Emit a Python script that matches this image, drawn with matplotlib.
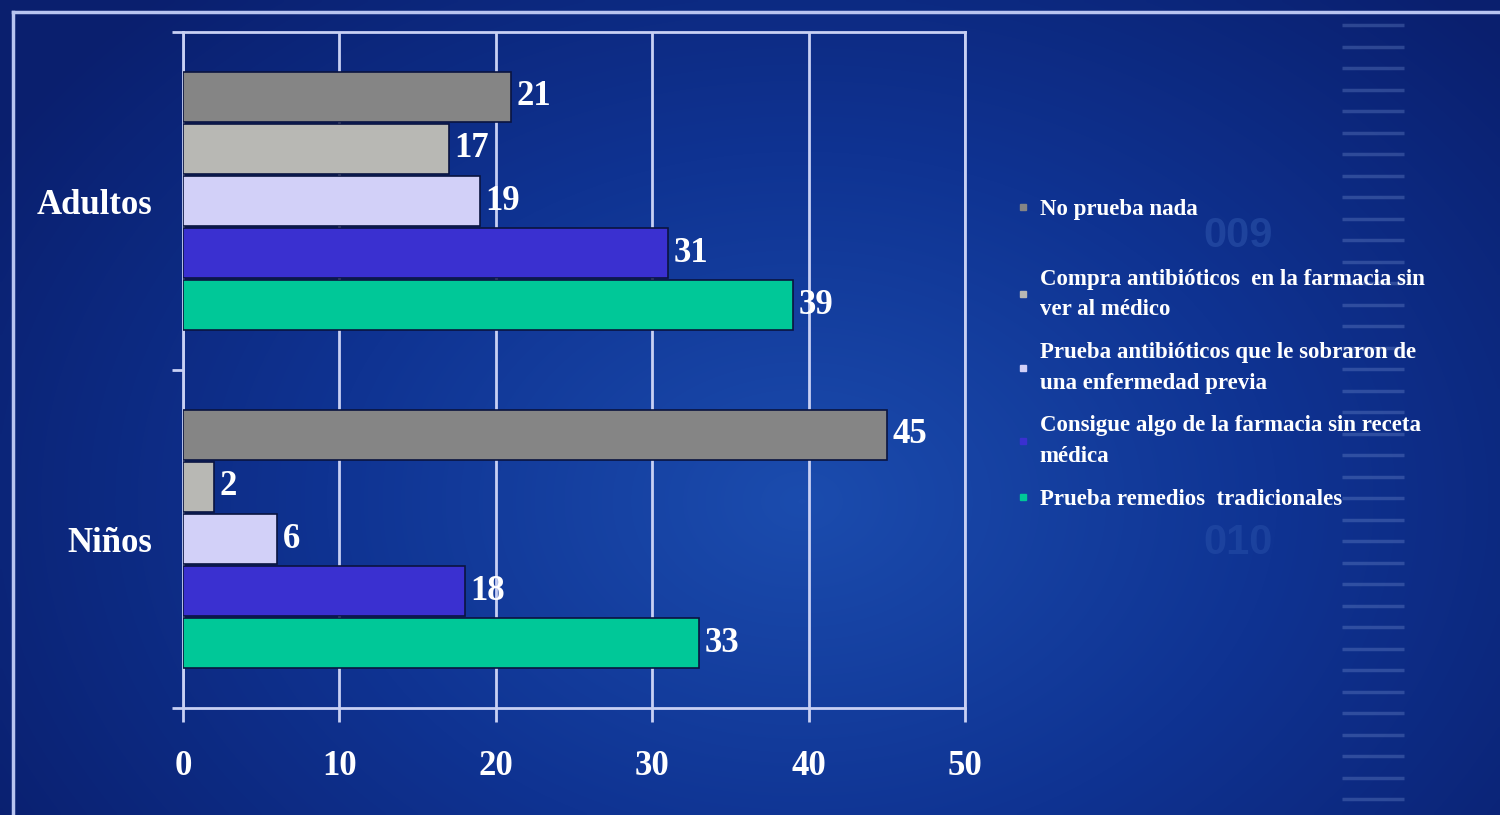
import numpy as np
import matplotlib
matplotlib.use("Agg")
import matplotlib.pyplot as plt
from matplotlib.lines import Line2D
from matplotlib.colors import LinearSegmentedColormap

categories = ["Adultos", "Niños"]
series_names = [
    "No prueba nada",
    "Compra antibióticos  en la farmacia sin\nver al médico",
    "Prueba antibióticos que le sobraron de\nuna enfermedad previa",
    "Consigue algo de la farmacia sin receta\nmédica",
    "Prueba remedios  tradicionales",
]
values_adultos = [21, 17, 19, 31, 39]
values_ninos = [45, 2, 6, 18, 33]
colors = ["#858585", "#b8b8b4", "#d2d0f8", "#3a30d0", "#00c898"]
xticks = [0, 10, 20, 30, 40, 50]

W, H = 1500, 815
fig = plt.figure(figsize=(15, 8.15), dpi=100)
fig.patch.set_facecolor("#0d2a88")

# background gradient
bg = fig.add_axes([0, 0, 1, 1], zorder=-10)
yy, xx = np.mgrid[0:H:4, 0:W:4]
d = np.sqrt(((xx - 800) / 950.0) ** 2 + ((yy - 500) / 700.0) ** 2)
grad = np.clip(1.0 - d, 0, 1)
cmap = LinearSegmentedColormap.from_list("bgc", ["#0a1f6e", "#0f3392", "#1b4cae"])
bg.imshow(grad, cmap=cmap, aspect="auto", extent=[0, W, H, 0], interpolation="bilinear")
bg.set_xlim(0, W)
bg.set_ylim(H, 0)
bg.axis("off")
# decorative ruler dashes on the right
for yv in np.arange(25, 815, 21.5):
    bg.plot([1342, 1404], [yv, yv], color="#7e9ad8", alpha=0.3, lw=2.5, solid_capstyle="butt")
bg.text(1238, 236, "009", color="#3a63b8", alpha=0.4, fontsize=30, ha="center", va="center",
        family="Liberation Sans", fontweight="bold")
bg.text(1238, 543, "010", color="#3a63b8", alpha=0.3, fontsize=30, ha="center", va="center",
        family="Liberation Sans", fontweight="bold")
# slide frame lines
bg.plot([13, 13], [12, H], color="#b8c4f0", lw=2.5)
bg.plot([13, W], [12, 12], color="#b8c4f0", lw=2.5)

ax = fig.add_axes([183 / W, 1 - 708 / H, (965 - 183) / W, (708 - 32) / H])
ax.set_facecolor("none")

frame = "#c8d0f4"
n = len(series_names)
pitch = 0.154
bh = 0.148
y = np.arange(len(categories))
for i in range(n):
    vals = [values_adultos[i], values_ninos[i]]
    bars = ax.barh(y + (i - (n - 1) / 2) * pitch, vals, height=bh, color=colors[i],
                   edgecolor="#0a1440", linewidth=1.2, zorder=3, label=series_names[i])
    ax.bar_label(bars, labels=[str(v) for v in vals], padding=4, color="white",
                 fontsize=25, fontweight="bold", family="Liberation Serif", zorder=5)

ax.set_xlim(0, 50)
ax.set_ylim(1.5, -0.5)
ax.set_xticks(xticks)
ax.set_xticklabels([str(t) for t in xticks])
ax.grid(axis="x", color=frame, lw=2, zorder=1)
ax.set_axisbelow(True)

ax.set_yticks([-0.5, 0.5, 1.5])
ax.set_yticklabels([])
ax.set_yticks(y, minor=True)
ax.set_yticklabels(categories, minor=True)
ax.tick_params(axis="y", which="major", length=8, width=2, color=frame, direction="out")
ax.tick_params(axis="y", which="minor", length=0, pad=22, labelsize=25, labelcolor="white")
ax.tick_params(axis="x", length=10, width=2, color=frame, direction="out", pad=20,
               labelsize=25, labelcolor="white")
for lab in ax.get_xticklabels() + ax.get_yticklabels(minor=True):
    lab.set_family("Liberation Serif")
    lab.set_fontweight("bold")
for sp in ax.spines.values():
    sp.set_color(frame)
    sp.set_linewidth(2)

handles = [Line2D([], [], marker="s", ls="none", markersize=5, color=c) for c in colors]
legkw = dict(loc="upper left", frameon=False,
             prop={"family": "Liberation Serif", "weight": "bold", "size": 16.5},
             labelcolor="white", handlelength=0.6, handletextpad=0.45, labelspacing=0.95)
leg1 = fig.legend(handles[:1], series_names[:1], bbox_to_anchor=(995 / W, 1 - 178 / H), **legkw)
leg2 = fig.legend(handles[1:], series_names[1:], bbox_to_anchor=(995 / W, 1 - 248 / H), **legkw)
for t in leg2.get_texts():
    t.set_linespacing(1.6)

fig.savefig("out.png", dpi=100, facecolor=fig.get_facecolor())
